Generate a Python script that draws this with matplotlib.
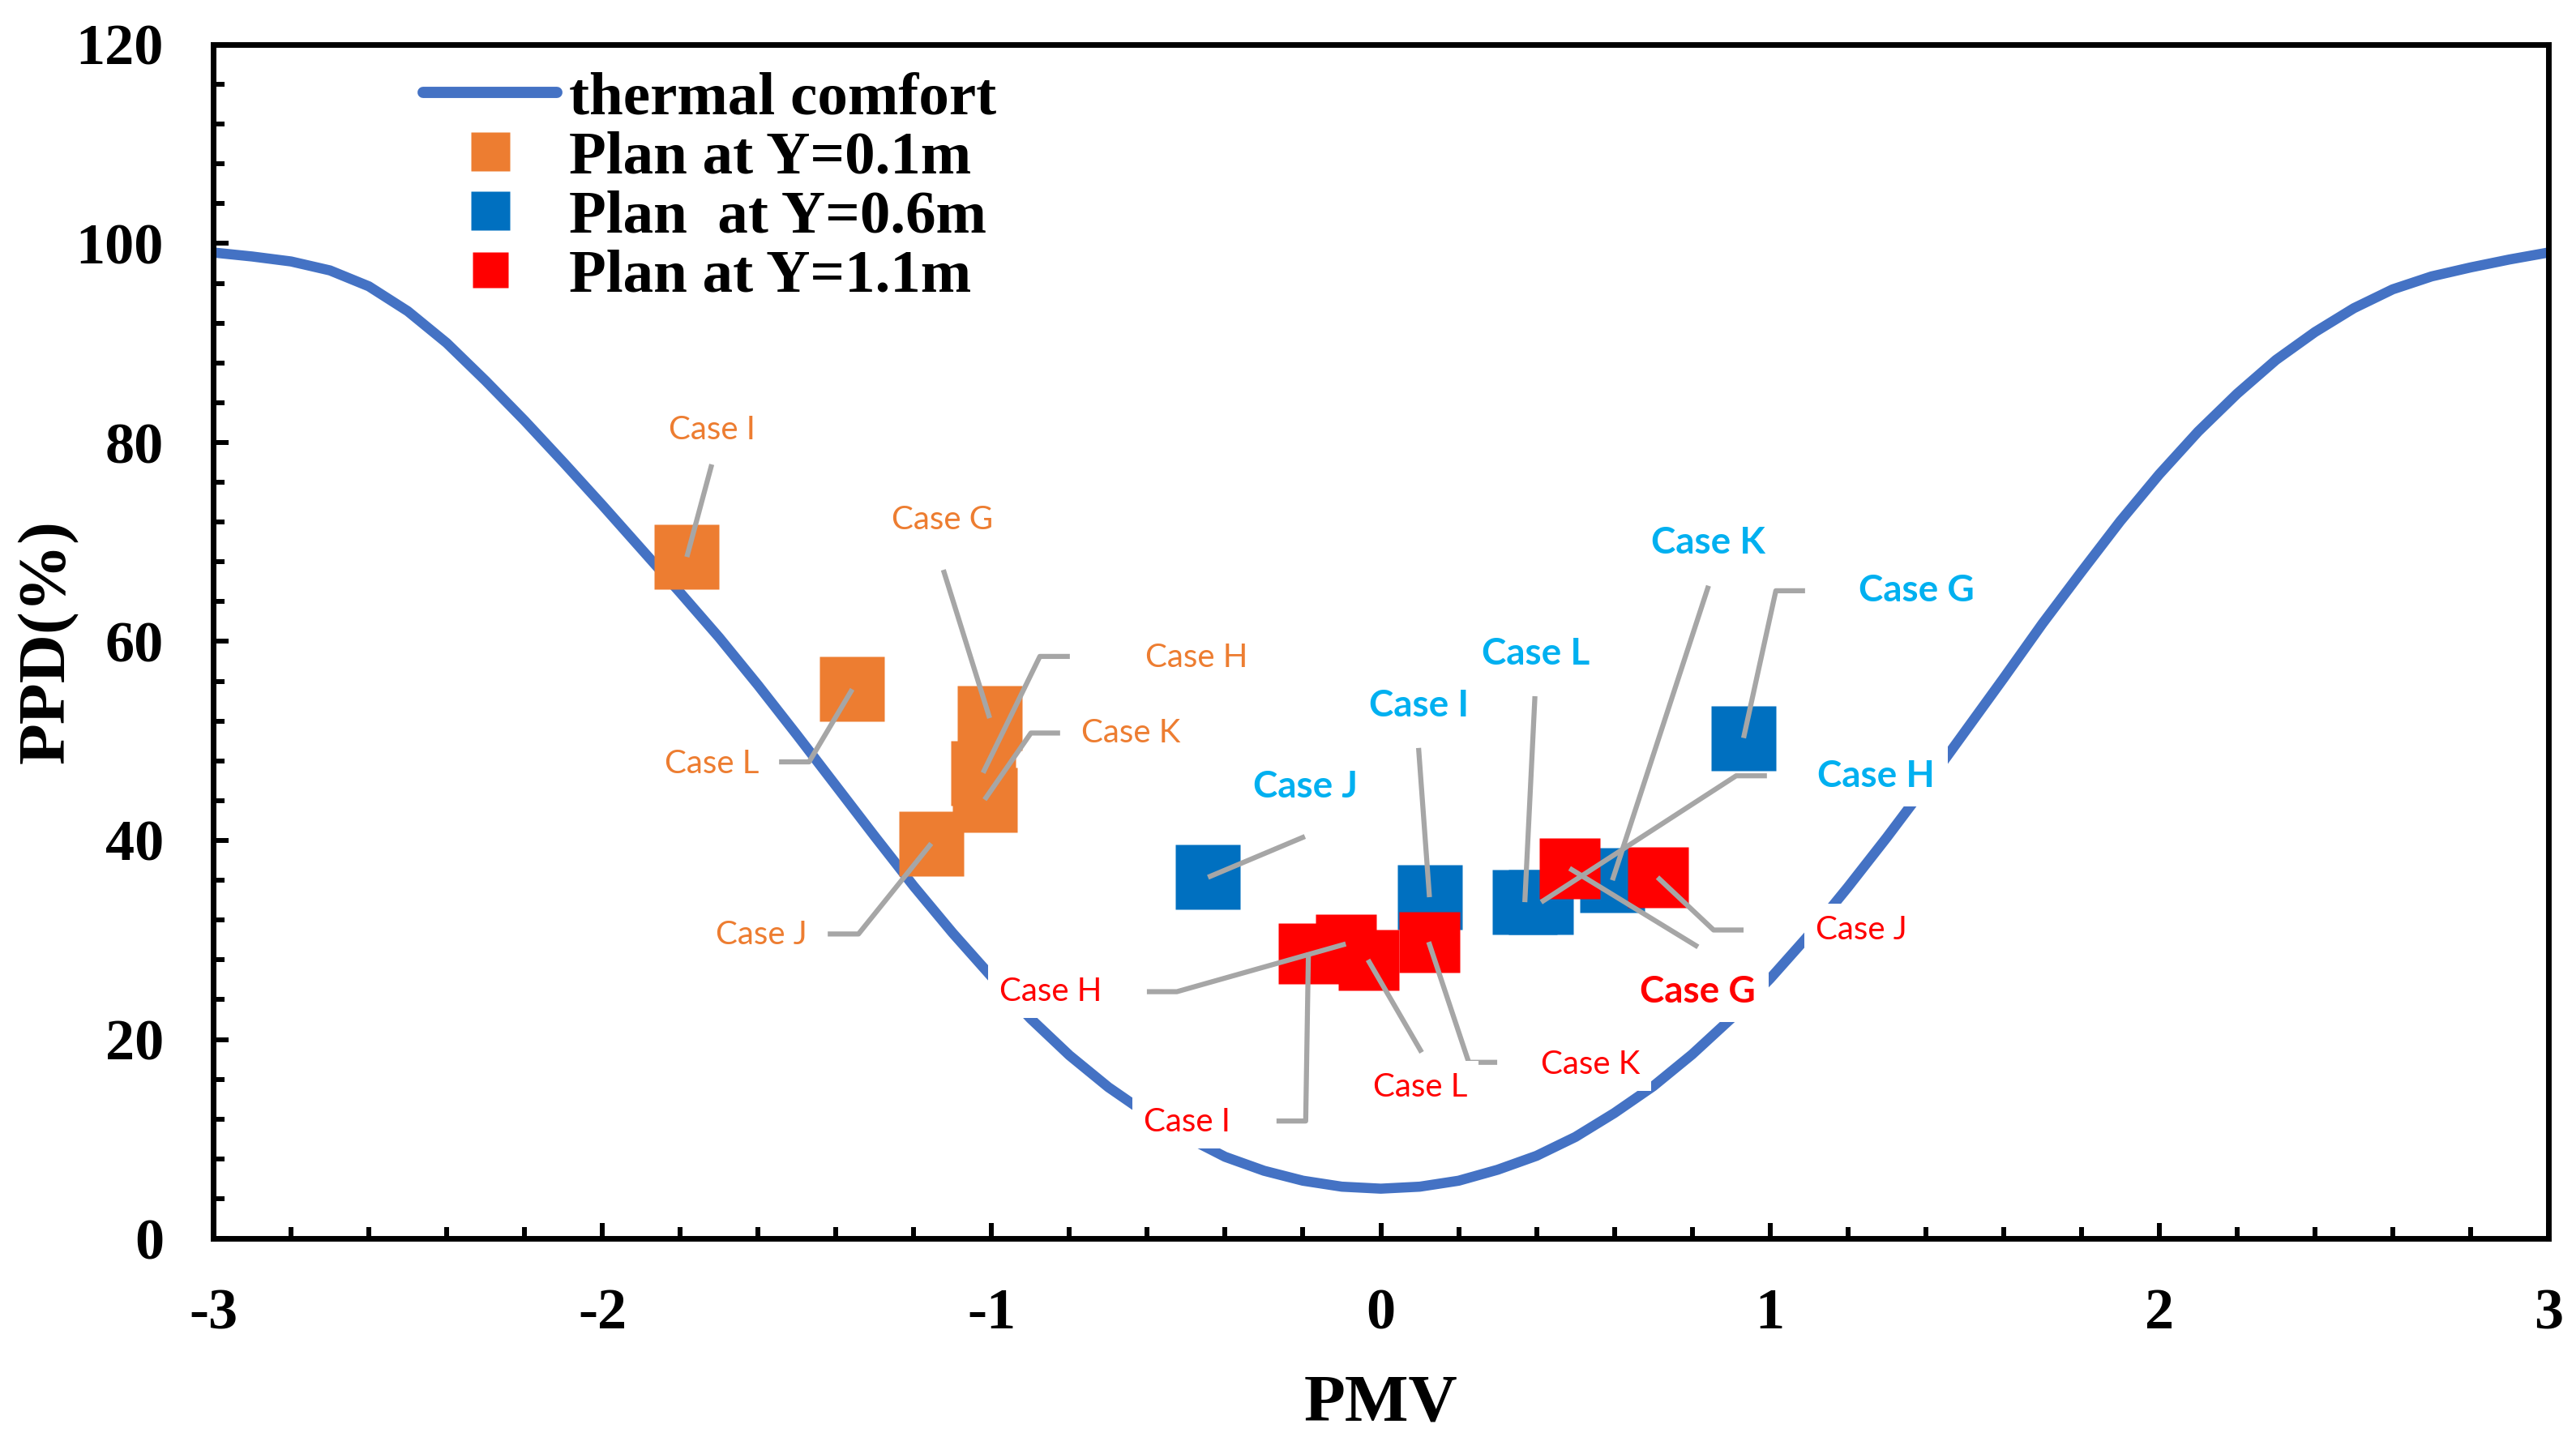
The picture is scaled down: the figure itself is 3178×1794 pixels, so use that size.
import matplotlib
matplotlib.use('Agg')
import matplotlib.pyplot as plt
from matplotlib.lines import Line2D

# thermal comfort curve (PMV step 0.1)
pmv_curve = [-3.0, -2.9, -2.8, -2.7, -2.6, -2.5, -2.4, -2.3, -2.2, -2.1, -2.0,
             -1.9, -1.8, -1.7, -1.6, -1.5, -1.4, -1.3, -1.2, -1.1, -1.0,
             -0.9, -0.8, -0.7, -0.6, -0.5, -0.4, -0.3, -0.2, -0.1, 0.0,
             0.1, 0.2, 0.3, 0.4, 0.5, 0.6, 0.7, 0.8, 0.9, 1.0,
             1.1, 1.2, 1.3, 1.4, 1.5, 1.6, 1.7, 1.8, 1.9, 2.0,
             2.1, 2.2, 2.3, 2.4, 2.5, 2.6, 2.7, 2.8, 2.9, 3.0]
ppd_curve = [99.1, 98.7, 98.2, 97.3, 95.7, 93.2, 90.0, 86.2, 82.2, 78.0, 73.7,
             69.3, 64.9, 60.4, 55.6, 50.6, 45.5, 40.4, 35.4, 30.7, 26.3,
             22.1, 18.4, 15.2, 12.5, 10.2, 8.2, 6.8, 5.8, 5.2, 5.0,
             5.2, 5.8, 6.9, 8.3, 10.2, 12.6, 15.3, 18.5, 22.1, 26.1,
             30.5, 35.3, 40.3, 45.5, 50.9, 56.3, 61.8, 67.0, 72.1, 76.8,
             81.1, 84.9, 88.3, 91.1, 93.5, 95.4, 96.7, 97.6, 98.4, 99.1]

cases = ['Case G', 'Case H', 'Case I', 'Case J', 'Case K', 'Case L']

pmv_y01 = [-1.005, -1.022, -1.783, -1.155, -1.018, -1.358]
ppd_y01 = [52.3, 46.8, 68.5, 39.7, 44.1, 55.2]

pmv_y06 = [0.932, 0.412, 0.125, -0.444, 0.595, 0.370]
ppd_y06 = [50.3, 33.8, 34.3, 36.3, 36.0, 33.8]

pmv_y11 = [0.485, -0.090, -0.186, 0.711, 0.123, -0.033]
ppd_y11 = [37.2, 29.6, 28.7, 36.3, 29.8, 28.0]

# label placement: text centre, elbow of the leader line, bold?
lab_y01 = {
    'Case G': ((-1.126, 72.2), [(-1.124, 67.2)], False),
    'Case H': ((-0.474, 58.4), [(-0.799, 58.5), (-0.876, 58.5)], False),
    'Case I': ((-1.719, 81.3), [(-1.719, 77.8)], False),
    'Case J': ((-1.592, 30.5), [(-1.421, 30.6), (-1.342, 30.6)], False),
    'Case K': ((-0.643, 50.8), [(-0.824, 50.8), (-0.899, 50.8)], False),
    'Case L': ((-1.719, 47.7), [(-1.546, 47.9), (-1.469, 47.9)], False),
}
lab_y06 = {
    'Case G': ((1.377, 65.1), [(1.090, 65.1), (1.015, 65.1)], True),
    'Case H': ((1.273, 46.4), [(0.992, 46.5), (0.913, 46.5)], True),
    'Case I': ((0.097, 53.5), [(0.097, 49.3)], True),
    'Case J': ((-0.193, 45.4), [(-0.195, 40.4)], True),
    'Case K': ((0.842, 69.9), [(0.842, 65.6)], True),
    'Case L': ((0.399, 58.7), [(0.396, 54.5)], True),
}
lab_y11 = {
    'Case G': ((0.815, 24.8), [(0.815, 29.3)], True),
    'Case H': ((-0.849, 24.8), [(-0.601, 24.8), (-0.524, 24.8)], False),
    'Case I': ((-0.497, 11.7), [(-0.268, 11.8), (-0.193, 11.8)], False),
    'Case J': ((1.234, 31.0), [(0.932, 31.0), (0.855, 31.0)], False),
    'Case K': ((0.538, 17.5), [(0.299, 17.7), (0.226, 17.7)], False),
    'Case L': ((0.101, 15.2), [(0.105, 18.7)], False),
}

c_curve = '#4472C4'
c_orange = '#ED7D31'
c_blue = '#0070C0'
c_red = '#FF0000'
c_lab_blue = '#00B0F0'
c_leader = '#A6A6A6'

plt.rcParams['font.family'] = ['Liberation Serif', 'DejaVu Serif']
plt.rcParams['font.weight'] = 'bold'
plt.rcParams['axes.unicode_minus'] = False

fig = plt.figure(figsize=(31.78, 17.94), dpi=100)
ax = fig.add_axes([263 / 3178, 1 - 1528 / 1794, 2881 / 3178, 1473 / 1794])

ax.plot(pmv_curve, ppd_curve, color=c_curve, lw=9, solid_capstyle='round',
        solid_joinstyle='round', zorder=2)

series = [
    (pmv_y01, ppd_y01, c_orange, 58, lab_y01, c_orange),
    (pmv_y06, ppd_y06, c_blue, 57.5, lab_y06, c_lab_blue),
    (pmv_y11, ppd_y11, c_red, 54, lab_y11, c_red),
]
z = 3
for xs, ys, col, ms, labs, tcol in series:
    ax.plot(xs, ys, ls='none', marker='s', ms=ms, color=col, mec='none', zorder=z)
    z += 0.1

# data labels with leader lines
for xs, ys, col, ms, labs, tcol in series:
    for name, px, py in zip(cases, xs, ys):
        (tx, ty), elbow, bold = labs[name]
        lx = [p[0] for p in elbow] + [px]
        ly = [p[1] for p in elbow] + [py]
        ax.plot(lx, ly, color=c_leader, lw=4.5, solid_capstyle='butt', zorder=5)
        ax.text(tx, ty, name, color=tcol, ha='center', va='center',
                fontsize=33 if bold else 29, family='Lato',
                fontweight='bold' if bold else 'normal', zorder=6,
                bbox=dict(boxstyle='square,pad=0.35', fc='white', ec='none'))

ax.set_xlim(-3, 3)
ax.set_ylim(0, 120)
ax.set_xticks([-3, -2, -1, 0, 1, 2, 3])
ax.set_xticks([i / 5 for i in range(-15, 16)], minor=True)
ax.set_yticks(range(0, 121, 20))
ax.set_yticks(range(0, 121, 4), minor=True)
ax.tick_params(which='both', direction='in', labelsize=52, pad=44, width=4.3,
               top=False, right=False)
ax.tick_params(which='major', length=14)
ax.tick_params(which='minor', length=10)
for sp in ax.spines.values():
    sp.set_linewidth(5)

ax.set_xlabel('PMV', fontsize=60, fontweight='bold')
ax.set_ylabel('PPD(%)', fontsize=60, fontweight='bold')
ax.xaxis.label.set_va('center')
ax.yaxis.label.set_va('center')
ax.xaxis.set_label_coords(0.5, -0.139)
ax.yaxis.set_label_coords(-0.0705, 0.5)

handles = [
    Line2D([], [], color=c_curve, lw=10, solid_capstyle='round'),
    Line2D([], [], ls='none', marker='s', ms=34, color=c_orange, mec='none'),
    Line2D([], [], ls='none', marker='s', ms=34, color=c_blue, mec='none'),
    Line2D([], [], ls='none', marker='s', ms=31, color=c_red, mec='none'),
]
names = ['thermal comfort', 'Plan at Y=0.1m', 'Plan  at Y=0.6m', 'Plan at Y=1.1m']
fig.legend(handles, names, loc='upper left', bbox_to_anchor=(522 / 3178, 1 - 88 / 1794),
           frameon=False, handlelength=2.2, handletextpad=0.2,
           labelspacing=0.06, borderpad=0, borderaxespad=0,
           prop={'family': 'Liberation Serif', 'weight': 'bold', 'size': 54})

fig.savefig('out.png', dpi=100)
